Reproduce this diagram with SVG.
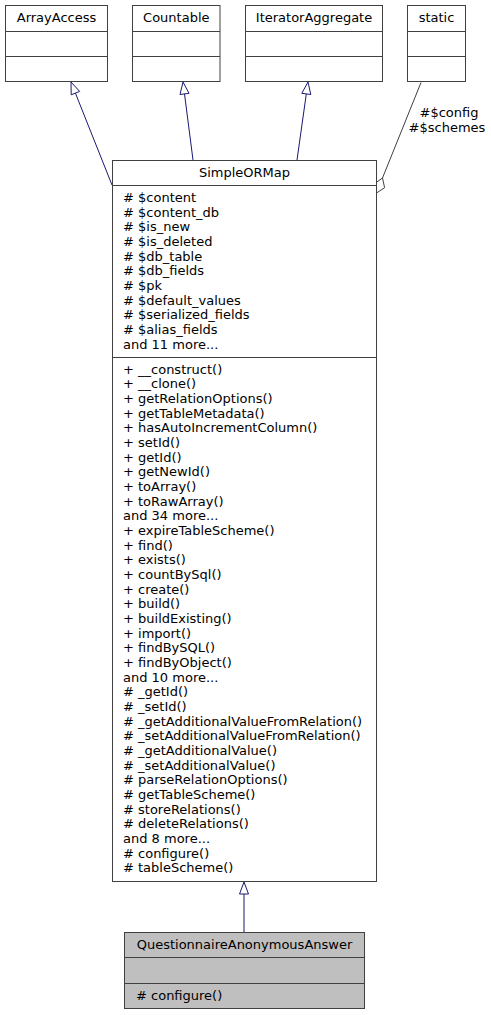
<svg xmlns="http://www.w3.org/2000/svg" width="491" height="1015" viewBox="0 0 491 1015">
<style>
.box{fill:#ffffff;stroke:#404040;stroke-width:1}
.gbox{fill:#bfbfbf;stroke:#404040;stroke-width:1}
.sep{stroke:#404040;stroke-width:1}
text{font-family:"DejaVu Sans",sans-serif;font-size:13px;fill:#000000}
.c{text-anchor:middle}
.inh{fill:none;stroke:#191970;stroke-width:1}
.head{fill:#ffffff;stroke:#191970;stroke-width:1}
.use{fill:none;stroke:#404040;stroke-width:1}
.dia{fill:#ffffff;stroke:#404040;stroke-width:1}
</style>
<rect width="491" height="1015" fill="#ffffff"/>
<g id="connectors">
<path class="inh" d="M112,185 L75.4,93.1"/>
<polygon class="head" points="71,82 79.6,91.4 71.2,94.8"/>
<path class="inh" d="M193,160 L184.5,93.9"/>
<polygon class="head" points="183,82 189,93.3 180,94.5"/>
<path class="inh" d="M297,160 L306.3,93.9"/>
<polygon class="head" points="308,82 310.8,94.5 301.8,93.3"/>
<path class="use" d="M421,82.5 L382.5,178"/>
<polygon class="dia" points="376.5,193 374.4,183.7 382.5,178 384.6,187.7"/>
<text class="c" x="449" y="117">#$config</text>
<text class="c" x="447" y="132">#$schemes</text>
<path class="inh" d="M244,932 L244,894"/>
<polygon class="head" points="244,882 248.5,894 239.5,894"/>
</g>
<g id="ArrayAccess">
<rect class="box" x="5.5" y="5.5" width="102" height="76"/>
<line class="sep" x1="5.5" y1="31.5" x2="107.5" y2="31.5"/>
<line class="sep" x1="5.5" y1="56.5" x2="107.5" y2="56.5"/>
<text class="c" x="56.5" y="22">ArrayAccess</text>
</g>
<g id="Countable">
<rect class="box" x="132.5" y="5.5" width="87.5" height="76"/>
<line class="sep" x1="132.5" y1="31.5" x2="220" y2="31.5"/>
<line class="sep" x1="132.5" y1="56.5" x2="220" y2="56.5"/>
<text class="c" x="176.3" y="22">Countable</text>
</g>
<g id="IteratorAggregate">
<rect class="box" x="245.5" y="5.5" width="137" height="76"/>
<line class="sep" x1="245.5" y1="31.5" x2="382.5" y2="31.5"/>
<line class="sep" x1="245.5" y1="56.5" x2="382.5" y2="56.5"/>
<text class="c" x="314" y="22">IteratorAggregate</text>
</g>
<g id="static">
<rect class="box" x="407.5" y="5.5" width="58" height="76"/>
<line class="sep" x1="407.5" y1="31.5" x2="465.5" y2="31.5"/>
<line class="sep" x1="407.5" y1="56.5" x2="465.5" y2="56.5"/>
<text class="c" x="436.5" y="22">static</text>
</g>
<g id="SimpleORMap">
<rect class="box" x="112.5" y="160.5" width="264" height="721"/>
<line class="sep" x1="112.5" y1="185.5" x2="376.5" y2="185.5"/>
<line class="sep" x1="112.5" y1="357.5" x2="376.5" y2="357.5"/>
<text class="c" x="244.5" y="177">SimpleORMap</text>
<text x="123" y="201.8"><tspan x="123"># $content</tspan><tspan x="123" dy="14.7"># $content_db</tspan><tspan x="123" dy="14.7"># $is_new</tspan><tspan x="123" dy="14.7"># $is_deleted</tspan><tspan x="123" dy="14.7"># $db_table</tspan><tspan x="123" dy="14.7"># $db_fields</tspan><tspan x="123" dy="14.7"># $pk</tspan><tspan x="123" dy="14.7"># $default_values</tspan><tspan x="123" dy="14.7"># $serialized_fields</tspan><tspan x="123" dy="14.7"># $alias_fields</tspan><tspan x="123" dy="14.7">and 11 more...</tspan></text>
<text x="123" y="373.8"><tspan x="123">+ __construct()</tspan><tspan x="123" dy="14.66">+ __clone()</tspan><tspan x="123" dy="14.66">+ getRelationOptions()</tspan><tspan x="123" dy="14.66">+ getTableMetadata()</tspan><tspan x="123" dy="14.66">+ hasAutoIncrementColumn()</tspan><tspan x="123" dy="14.66">+ setId()</tspan><tspan x="123" dy="14.66">+ getId()</tspan><tspan x="123" dy="14.66">+ getNewId()</tspan><tspan x="123" dy="14.66">+ toArray()</tspan><tspan x="123" dy="14.66">+ toRawArray()</tspan><tspan x="123" dy="14.66">and 34 more...</tspan><tspan x="123" dy="14.66">+ expireTableScheme()</tspan><tspan x="123" dy="14.66">+ find()</tspan><tspan x="123" dy="14.66">+ exists()</tspan><tspan x="123" dy="14.66">+ countBySql()</tspan><tspan x="123" dy="14.66">+ create()</tspan><tspan x="123" dy="14.66">+ build()</tspan><tspan x="123" dy="14.66">+ buildExisting()</tspan><tspan x="123" dy="14.66">+ import()</tspan><tspan x="123" dy="14.66">+ findBySQL()</tspan><tspan x="123" dy="14.66">+ findByObject()</tspan><tspan x="123" dy="14.66">and 10 more...</tspan><tspan x="123" dy="14.66"># _getId()</tspan><tspan x="123" dy="14.66"># _setId()</tspan><tspan x="123" dy="14.66"># _getAdditionalValueFromRelation()</tspan><tspan x="123" dy="14.66"># _setAdditionalValueFromRelation()</tspan><tspan x="123" dy="14.66"># _getAdditionalValue()</tspan><tspan x="123" dy="14.66"># _setAdditionalValue()</tspan><tspan x="123" dy="14.66"># parseRelationOptions()</tspan><tspan x="123" dy="14.66"># getTableScheme()</tspan><tspan x="123" dy="14.66"># storeRelations()</tspan><tspan x="123" dy="14.66"># deleteRelations()</tspan><tspan x="123" dy="14.66">and 8 more...</tspan><tspan x="123" dy="14.66"># configure()</tspan><tspan x="123" dy="14.66"># tableScheme()</tspan></text>
</g>
<g id="QuestionnaireAnonymousAnswer">
<rect class="gbox" x="124.5" y="932.5" width="240" height="76"/>
<line class="sep" x1="124.5" y1="957.5" x2="364.5" y2="957.5"/>
<line class="sep" x1="124.5" y1="983.5" x2="364.5" y2="983.5"/>
<text class="c" x="244.5" y="949">QuestionnaireAnonymousAnswer</text>
<text x="136" y="1000"># configure()</text>
</g>
</svg>
